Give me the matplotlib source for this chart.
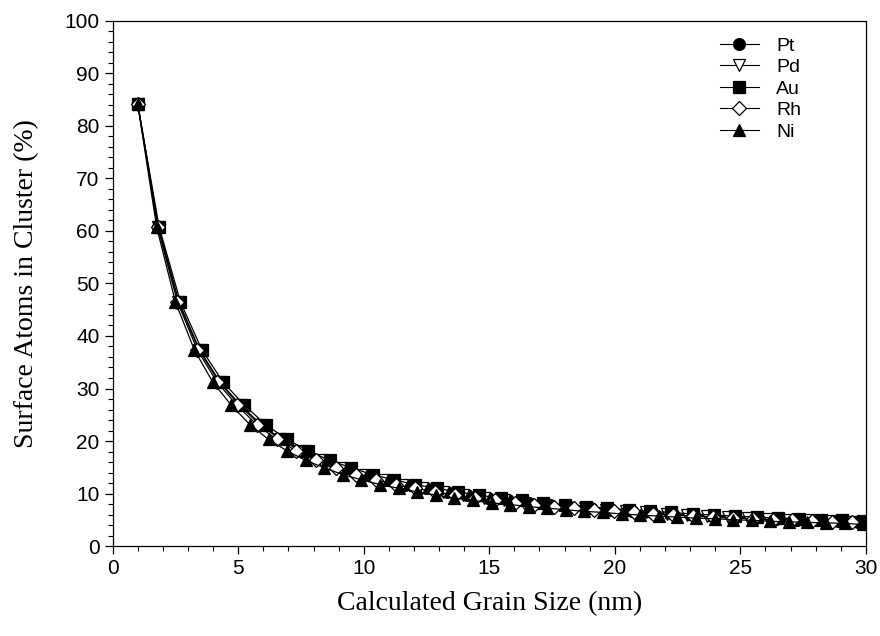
import matplotlib
matplotlib.use("Agg")
import matplotlib.pyplot as plt
from matplotlib.ticker import MultipleLocator

# grain size (nm) for each metal, shell by shell
size_pt = [1.00, 1.82, 2.64, 3.46, 4.28, 5.10, 5.92, 6.74, 7.56, 8.38, 9.20, 10.02,
           10.84, 11.66, 12.48, 13.30, 14.12, 14.94, 15.76, 16.58, 17.40, 18.22,
           19.04, 19.86, 20.68, 21.50, 22.32, 23.14, 23.96, 24.78, 25.60, 26.42,
           27.24, 28.06, 28.88, 29.70]
size_pd = [1.00, 1.81, 2.62, 3.43, 4.24, 5.05, 5.86, 6.67, 7.48, 8.29, 9.10, 9.91,
           10.72, 11.53, 12.34, 13.15, 13.96, 14.77, 15.58, 16.39, 17.20, 18.01,
           18.82, 19.63, 20.44, 21.25, 22.06, 22.87, 23.68, 24.49, 25.30, 26.11,
           26.92, 27.73, 28.54, 29.35]
size_au = [1.00, 1.85, 2.70, 3.55, 4.40, 5.25, 6.10, 6.95, 7.80, 8.65, 9.50, 10.35,
           11.20, 12.05, 12.90, 13.75, 14.60, 15.45, 16.30, 17.15, 18.00, 18.85,
           19.70, 20.55, 21.40, 22.25, 23.10, 23.95, 24.80, 25.65, 26.50, 27.35,
           28.20, 29.05, 29.90]
size_rh = [1.00, 1.79, 2.58, 3.37, 4.16, 4.95, 5.74, 6.53, 7.32, 8.11, 8.90, 9.69,
           10.48, 11.27, 12.06, 12.85, 13.64, 14.43, 15.22, 16.01, 16.80, 17.59,
           18.38, 19.17, 19.96, 20.75, 21.54, 22.33, 23.12, 23.91, 24.70, 25.49,
           26.28, 27.07, 27.86, 28.65, 29.44]
size_ni = [1.00, 1.75, 2.50, 3.25, 3.99, 4.73, 5.47, 6.21, 6.95, 7.69, 8.43, 9.17,
           9.91, 10.65, 11.39, 12.13, 12.87, 13.61, 14.35, 15.09, 15.83, 16.57,
           17.31, 18.05, 18.79, 19.53, 20.27, 21.01, 21.75, 22.49, 23.23, 23.97,
           24.71, 25.45, 26.19, 26.93, 27.67, 28.41, 29.15, 29.89]

# surface atom fraction (%) per shell, same for every metal
surface_pct = [84.2, 60.8, 46.5, 37.4, 31.2, 26.8, 23.1, 20.3, 18.1, 16.3, 14.9,
               13.6, 12.6, 11.7, 11.0, 10.3, 9.7, 9.1, 8.7, 8.2, 7.9, 7.5, 7.2,
               6.9, 6.6, 6.4, 6.1, 5.9, 5.7, 5.5, 5.3, 5.2, 5.0, 4.9, 4.7, 4.6,
               4.5, 4.4, 4.3, 4.1]

series = [
    ("Pt", size_pt, "o", "black"),
    ("Pd", size_pd, "v", "white"),
    ("Au", size_au, "s", "black"),
    ("Rh", size_rh, "D", "white"),
    ("Ni", size_ni, "^", "black"),
]

fig = plt.figure(figsize=(8.8, 6.36), dpi=100)
ax = fig.add_axes([0.128, 0.1415, 0.856, 0.8255])

for name, xs, mk, fc in series:
    ms = 7 if mk == "D" else 8.5
    ax.plot(xs, surface_pct[:len(xs)], color="black", lw=0.9, marker=mk,
            markersize=ms, markerfacecolor=fc, markeredgecolor="black",
            markeredgewidth=0.9, label=name)

ax.set_xlim(0, 30)
ax.set_ylim(0, 100)
ax.xaxis.set_major_locator(MultipleLocator(5))
ax.xaxis.set_minor_locator(MultipleLocator(1))
ax.yaxis.set_major_locator(MultipleLocator(10))
ax.yaxis.set_minor_locator(MultipleLocator(2))
ax.tick_params(which="major", direction="out", length=6, width=0.9,
               labelsize=15, top=False, right=False)
ax.tick_params(which="minor", direction="out", length=3.5, width=0.8,
               top=False, right=False)
for lbl in ax.get_xticklabels() + ax.get_yticklabels():
    lbl.set_family("Liberation Sans")
for sp in ax.spines.values():
    sp.set_linewidth(0.9)

ax.set_xlabel("Calculated Grain Size (nm)", family="Liberation Serif",
              fontsize=20, labelpad=9)
ax.set_ylabel("Surface Atoms in Cluster (%)", family="Liberation Serif",
              fontsize=20, labelpad=18)

leg = ax.legend(loc="upper left", bbox_to_anchor=(0.783, 1.003), frameon=False,
                handlelength=2.0, labelspacing=0.2, handletextpad=0.9,
                prop={"family": "Liberation Sans", "size": 14})
for h in leg.legend_handles:
    h.set_linewidth(0.8)

fig.savefig("out.png", dpi=100)
